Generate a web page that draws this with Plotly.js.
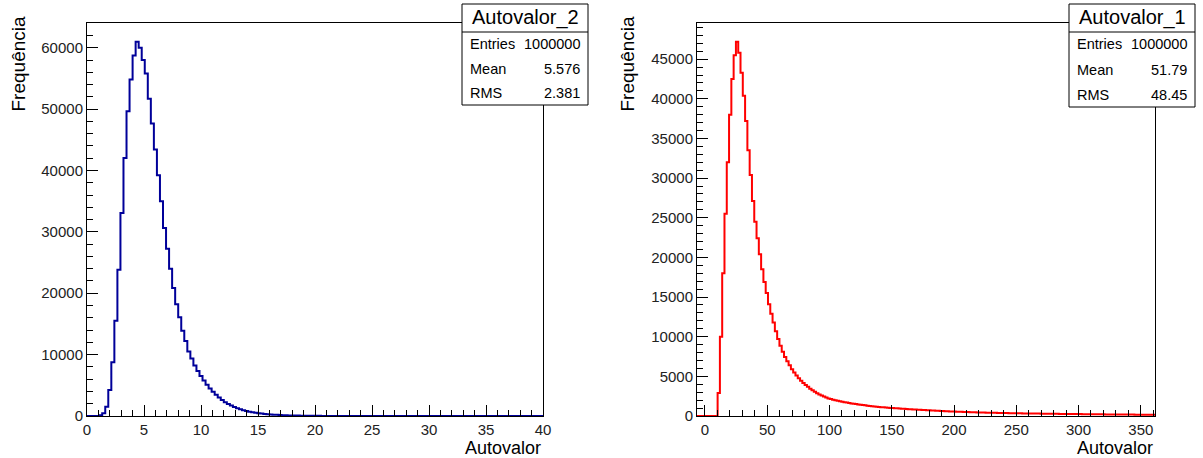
<!DOCTYPE html>
<html>
<head>
<meta charset="utf-8">
<script src="https://cdn.plot.ly/plotly-3.0.1.min.js"></script>
<style>html,body{margin:0;padding:0;background:#fff;}#chart{width:1203px;height:458px;}</style>
</head>
<body>
<div id="chart"></div>
<script>
// ---------------- DATA ----------------
// Autovalor_2: 150 bins on [0, 40]
const leftRange = [0, 40];
const leftNBins = 150;
const leftCounts = [
  0, 0, 0, 0, 120, 450, 1520, 4240, 8760, 15500,
  23830, 33080, 42050, 49670, 54840, 58750, 60980, 60000, 57990, 55810,
  51680, 47650, 43410, 39220, 34980, 30630, 27250, 23990, 20840, 18220,
  16100, 13900, 12200, 10500, 9350, 8210, 7320, 6500, 5800, 5100,
  4500, 3950, 3450, 3000, 2600, 2250, 1960, 1700, 1470, 1280,
  1100, 950, 820, 710, 610, 530, 455, 390, 335, 290,
  250, 215, 185, 160, 138, 118, 100, 87, 75, 64,
  55, 47, 40, 35, 30, 26, 22, 19, 16, 13,
  11, 9, 8, 7, 6, 5, 4, 3, 3, 2,
  2, 1, 1, 1, 1, 0, 0, 0, 0, 0,
  0, 0, 0, 0, 0, 0, 0, 0, 0, 0,
  0, 0, 0, 0, 0, 0, 0, 0, 0, 0,
  0, 0, 0, 0, 0, 0, 0, 0, 0, 0,
  0, 0, 0, 0, 0, 0, 0, 0, 0, 0,
  0, 0, 0, 0, 0, 0, 0, 0, 0, 0
];
const leftStats = {name: "Autovalor_2", entries: "1000000", mean: "5.576", rms: "2.381"};

// Autovalor_1: 200 bins on [-6.4, 361.4]
const rightRange = [-6.4, 361.4];
const rightNBins = 200;
const rightCounts = [
  0, 0, 0, 0, 0, 0, 0, 0, 0, 2900,
  10000, 18000, 25500, 32000, 38000, 42500, 45500, 47200, 45800, 43300,
  40400, 37200, 33500, 30400, 27100, 24500, 22400, 20400, 18500, 16900,
  15500, 14100, 12900, 11800, 10700, 9700, 8850, 8100, 7450, 6900,
  6400, 5900, 5500, 5100, 4750, 4450, 4150, 3900, 3680, 3450,
  3250, 3060, 2880, 2720, 2580, 2450, 2330, 2220, 2130, 2050,
  1980, 1910, 1850, 1790, 1740, 1690, 1640, 1590, 1540, 1500,
  1460, 1420, 1380, 1340, 1300, 1270, 1240, 1200, 1170, 1140,
  1110, 1090, 1060, 1040, 1020, 1000, 980, 965, 940, 925,
  900, 885, 860, 845, 820, 805, 785, 775, 755, 745,
  725, 712, 695, 684, 665, 652, 635, 624, 605, 594,
  578, 568, 555, 548, 535, 528, 515, 508, 495, 488,
  475, 468, 455, 448, 438, 432, 425, 420, 412, 407,
  398, 394, 386, 382, 374, 370, 362, 358, 350, 347,
  340, 337, 331, 329, 323, 321, 314, 312, 305, 302,
  296, 294, 288, 286, 280, 278, 272, 270, 264, 262,
  257, 255, 250, 249, 244, 243, 238, 237, 232, 231,
  226, 225, 220, 219, 214, 213, 208, 207, 202, 201,
  196, 195, 190, 190, 185, 184, 182, 179, 178, 175,
  174, 171, 170, 167, 166, 163, 162, 159, 158, 155
];
const rightStats = {name: "Autovalor_1", entries: "1000000", mean: "51.79", rms: "48.45"};

const xTitle = "Autovalor";
const yTitle = "Frequência";

// ---------------- HELPERS ----------------
const W = 1203, H = 458;
const px = v => v / W;
const py = v => 1 - v / H;

function stepTrace(range, nb, counts, color, xa, ya) {
  const w = (range[1] - range[0]) / nb;
  const xs = [], ys = [];
  for (let i = 0; i < nb; i++) { xs.push(range[0] + i * w); ys.push(counts[i]); }
  xs.push(range[1]); ys.push(counts[nb - 1]);
  return {x: xs, y: ys, type: 'scatter', mode: 'lines', line: {shape: 'hv', color: color, width: 2},
          xaxis: xa, yaxis: ya, hoverinfo: 'skip', showlegend: false};
}

const FONT = "Liberation Sans, Arial, sans-serif";
const tickFont = {family: FONT, size: 15, color: '#222'};

function axisBase(extra) {
  return Object.assign({
    showline: true, mirror: true, linecolor: '#000', linewidth: 1,
    ticks: 'inside', ticklen: 11, tickwidth: 1, tickcolor: '#000',
    showgrid: false, zeroline: false, tickfont: tickFont, fixedrange: true,
    tickformat: 'd'
  }, extra);
}

const maxL = Math.max(...leftCounts) * 1.05;
const maxR = Math.max(...rightCounts) * 1.05;

const frameTop = 23, frameBot = 416;
const L = {x0: 87, x1: 543}, R = {x0: 697, x1: 1155};

const layout = {
  width: W, height: H,
  margin: {l: 0, r: 0, t: 0, b: 0},
  paper_bgcolor: '#fff', plot_bgcolor: '#fff',
  showlegend: false,
  xaxis: axisBase({domain: [px(L.x0), px(L.x1)], range: leftRange, anchor: 'y',
    tick0: 0, dtick: 5, minor: {ticks: 'inside', ticklen: 6, dtick: 1, tickcolor: '#000', showgrid: false}}),
  yaxis: axisBase({domain: [py(frameBot), py(frameTop)], range: [0, maxL], anchor: 'x',
    tick0: 0, dtick: 10000, minor: {ticks: 'inside', ticklen: 6, dtick: 2000, tickcolor: '#000', showgrid: false}}),
  xaxis2: axisBase({domain: [px(R.x0), px(R.x1)], range: rightRange, anchor: 'y2',
    tick0: 0, dtick: 50, minor: {ticks: 'inside', ticklen: 6, dtick: 10, tickcolor: '#000', showgrid: false}}),
  yaxis2: axisBase({domain: [py(frameBot), py(frameTop)], range: [0, maxR], anchor: 'x2',
    tick0: 0, dtick: 5000, minor: {ticks: 'inside', ticklen: 6, dtick: 1000, tickcolor: '#000', showgrid: false}}),
  shapes: [],
  annotations: []
};

function addStats(st, x0, x1, y0, y1, yDiv) {
  layout.shapes.push({type: 'rect', xref: 'paper', yref: 'paper', x0: px(x0), x1: px(x1), y0: py(y1), y1: py(y0),
    line: {color: '#000', width: 1}, fillcolor: '#fff', layer: 'above'});
  layout.shapes.push({type: 'line', xref: 'paper', yref: 'paper', x0: px(x0), x1: px(x1), y0: py(yDiv), y1: py(yDiv),
    line: {color: '#000', width: 1}, layer: 'above'});
  const cx = (x0 + x1) / 2;
  layout.annotations.push({xref: 'paper', yref: 'paper', x: px(cx), y: py((y0 + yDiv) / 2), xanchor: 'center', yanchor: 'middle',
    text: st.name, showarrow: false, font: {family: FONT, size: 20, color: '#000'}});
  const rowH = (y1 - yDiv) / 3;
  const rows = [["Entries", st.entries], ["Mean", st.mean], ["RMS", st.rms]];
  rows.forEach((r, i) => {
    const yc = yDiv + rowH * (i + 0.5);
    layout.annotations.push({xref: 'paper', yref: 'paper', x: px(x0 + 6), y: py(yc), xanchor: 'left', yanchor: 'middle',
      text: r[0], showarrow: false, font: {family: FONT, size: 14.5, color: '#000'}});
    layout.annotations.push({xref: 'paper', yref: 'paper', x: px(x1 - 6), y: py(yc), xanchor: 'right', yanchor: 'middle',
      text: r[1], showarrow: false, font: {family: FONT, size: 14.5, color: '#000'}});
  });
}
addStats(leftStats, 462, 588, 4, 105, 32);
addStats(rightStats, 1069, 1195, 4, 107, 32);

function addTitles(xRight, yCenterX) {
  layout.annotations.push({xref: 'paper', yref: 'paper', x: px(xRight), y: py(448), xanchor: 'right', yanchor: 'middle',
    text: xTitle, showarrow: false, font: {family: FONT, size: 18, color: '#000'}});
  layout.annotations.push({xref: 'paper', yref: 'paper', x: px(yCenterX), y: py(15), xanchor: 'center', yanchor: 'top',
    text: yTitle, textangle: -90, showarrow: false, font: {family: FONT, size: 19, color: '#000'}});
}
addTitles(L.x1, 18);
addTitles(R.x1, 627);

const data = [
  stepTrace(leftRange, leftNBins, leftCounts, '#000099', 'x', 'y'),
  stepTrace(rightRange, rightNBins, rightCounts, '#ff0000', 'x2', 'y2')
];

Plotly.newPlot('chart', data, layout, {staticPlot: true, displayModeBar: false});
</script>
</body>
</html>
